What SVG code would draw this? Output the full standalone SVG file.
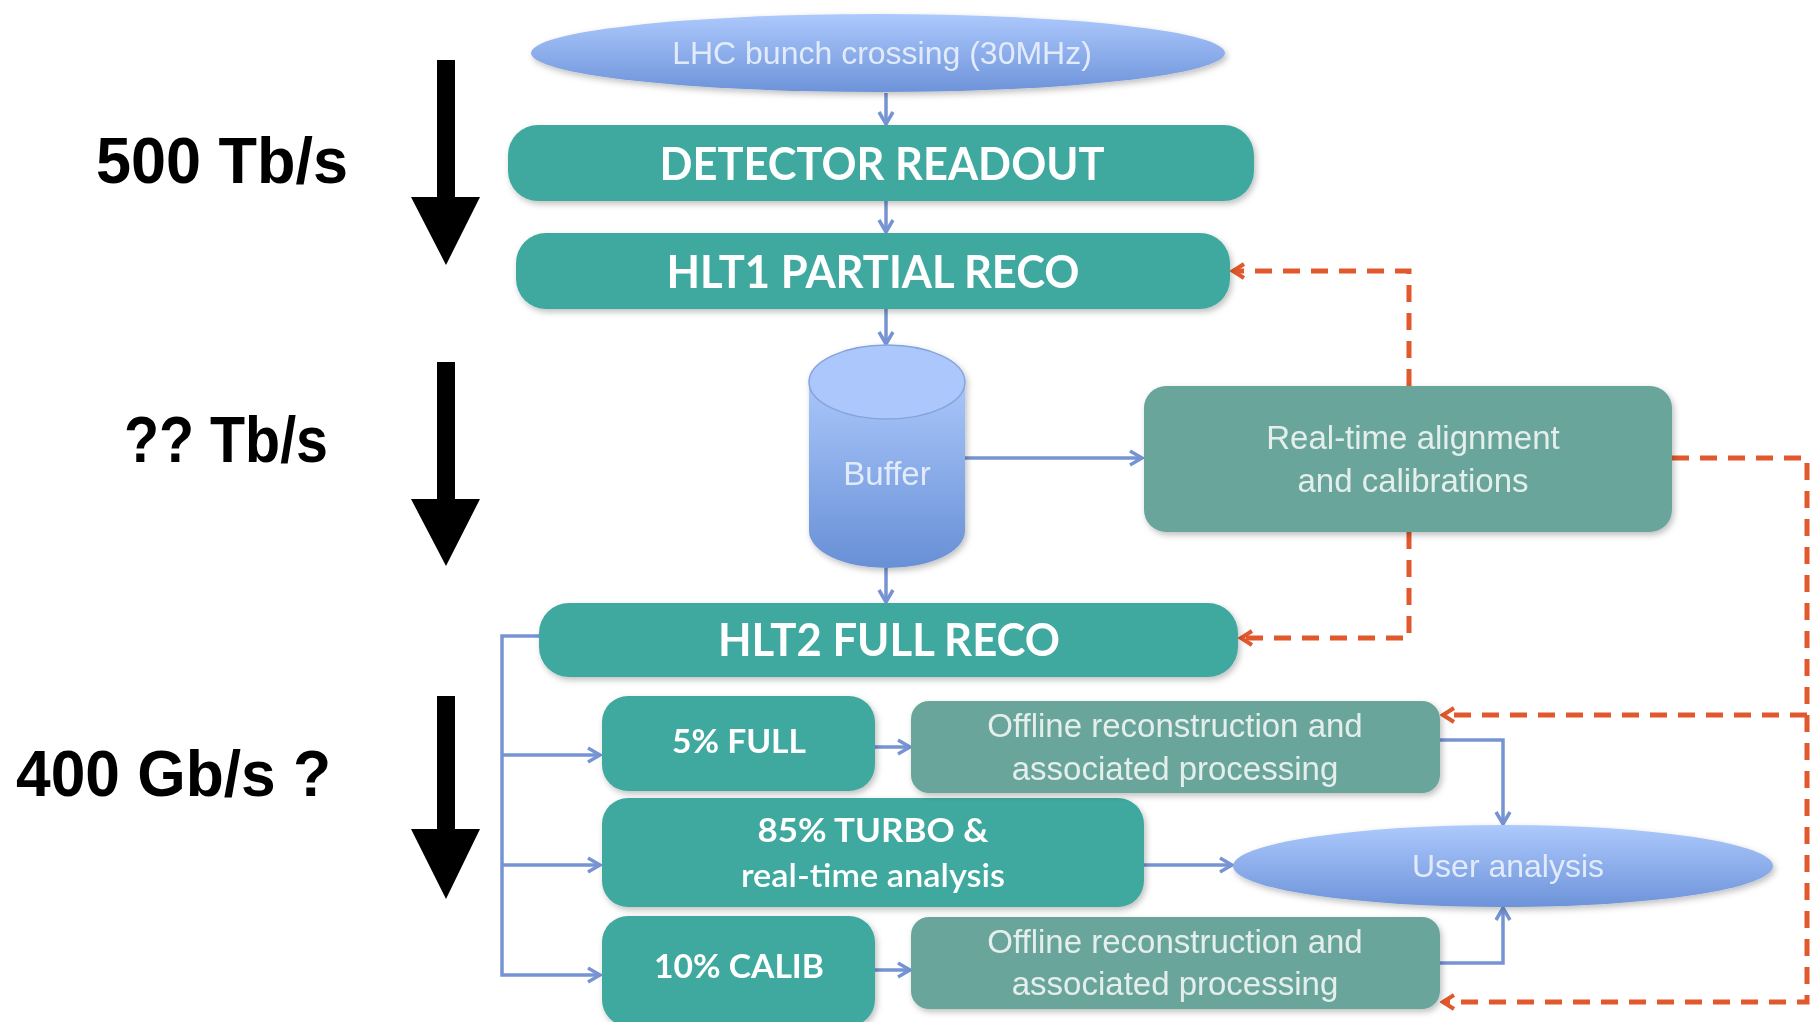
<svg xmlns="http://www.w3.org/2000/svg" width="1819" height="1022" viewBox="0 0 1819 1022">
<defs>
<style>
.rate{font-family:"Liberation Sans",Arial,sans-serif;font-weight:bold;font-size:64px;fill:#000}
.title{font-family:Lato,"Liberation Sans",sans-serif;font-weight:bold;font-size:46px;fill:#fff;text-anchor:middle}
.mid{font-family:Lato,"Liberation Sans",sans-serif;font-weight:bold;font-size:32px;fill:#fff;text-anchor:middle}
.small{font-family:"Liberation Sans",Arial,sans-serif;font-size:33px;fill:#e4efec;text-anchor:middle}
.blue{font-family:"Liberation Sans",Arial,sans-serif;font-size:32px;fill:#e2ebfb;text-anchor:middle}
.teal{fill:#41a99f}
.grey{fill:#6ba59c}
.bl{fill:none;stroke:#7694d3;stroke-width:3.5}
.rd{fill:none;stroke:#e0582c;stroke-width:5;stroke-dasharray:17 11}
</style>
<linearGradient id="gEll" x1="0" y1="0" x2="0" y2="1">
<stop offset="0" stop-color="#adc9fd"/>
<stop offset="1" stop-color="#6d93d9"/>
</linearGradient>
<linearGradient id="gCyl" x1="0" y1="0" x2="0" y2="1">
<stop offset="0" stop-color="#a9c6fa"/>
<stop offset="1" stop-color="#6890d6"/>
</linearGradient>
<filter id="sh" x="-10%" y="-20%" width="120%" height="150%">
<feDropShadow dx="2" dy="3" stdDeviation="3" flood-color="#000" flood-opacity="0.25"/>
</filter>
<marker id="ab" viewBox="0 0 18 18" refX="15" refY="9" markerWidth="18" markerHeight="18" markerUnits="userSpaceOnUse" orient="auto">
<path d="M3,2 L15,9 L3,16" fill="none" stroke="#7694d3" stroke-width="3.5"/>
</marker>
<marker id="ar" viewBox="0 0 18 18" refX="15" refY="9" markerWidth="18" markerHeight="18" markerUnits="userSpaceOnUse" orient="auto">
<path d="M4,2 L15,9 L4,16" fill="none" stroke="#e0582c" stroke-width="4"/>
</marker>
</defs>
<rect width="1819" height="1022" fill="#fff"/>

<g id="rates">
<g id="rate1">
<text class="rate" x="96" y="183" textLength="252" lengthAdjust="spacingAndGlyphs">500 Tb/s</text>
<path d="M437,60 H455 V197 H480 L446,265 L411,197 H437 Z" fill="#000"/>
</g>
<g id="rate2">
<text class="rate" x="124" y="462" textLength="204" lengthAdjust="spacingAndGlyphs">?? Tb/s</text>
<path d="M437,362 H455 V499 H480 L446,566 L411,499 H437 Z" fill="#000"/>
</g>
<g id="rate3">
<text class="rate" x="16" y="796" textLength="315" lengthAdjust="spacingAndGlyphs">400 Gb/s ?</text>
<path d="M437,696 H455 V829 H480 L446,899 L411,829 H437 Z" fill="#000"/>
</g>
</g>

<g id="connectors">
<path class="bl" d="M886,93 V124" marker-end="url(#ab)"/>
<path class="bl" d="M886,201 V232" marker-end="url(#ab)"/>
<path class="bl" d="M886,309 V344" marker-end="url(#ab)"/>
<path class="bl" d="M965,458 H1142" marker-end="url(#ab)"/>
<path class="bl" d="M886,568 V602" marker-end="url(#ab)"/>
<path class="bl" d="M539,636 H502 V975 H600" marker-end="url(#ab)"/>
<path class="bl" d="M502,755 H600" marker-end="url(#ab)"/>
<path class="bl" d="M502,865 H600" marker-end="url(#ab)"/>
<path class="bl" d="M875,747 H910" marker-end="url(#ab)"/>
<path class="bl" d="M875,970 H910" marker-end="url(#ab)"/>
<path class="bl" d="M1144,865 H1232" marker-end="url(#ab)"/>
<path class="bl" d="M1440,740 H1503 V824" marker-end="url(#ab)"/>
<path class="bl" d="M1440,963 H1503 V908" marker-end="url(#ab)"/>
<path class="rd" d="M1409,386 V271 H1233" marker-end="url(#ar)"/>
<path class="rd" d="M1409,532 V638 H1241" marker-end="url(#ar)"/>
<path class="rd" d="M1672,458 H1807 V1002 H1443" marker-end="url(#ar)"/>
<path class="rd" d="M1807,715 H1443" marker-end="url(#ar)"/>
</g>

<g id="lhc" filter="url(#sh)">
<ellipse cx="878" cy="53" rx="347" ry="39" fill="url(#gEll)"/>
<text class="blue" x="882" y="64">LHC bunch crossing (30MHz)</text>
</g>

<g id="detector" filter="url(#sh)">
<rect class="teal" x="508" y="125" width="746" height="76" rx="30"/>
<text class="title" x="882" y="180" textLength="445" lengthAdjust="spacingAndGlyphs">DETECTOR READOUT</text>
</g>

<g id="hlt1" filter="url(#sh)">
<rect class="teal" x="516" y="233" width="714" height="76" rx="30"/>
<text class="title" x="873" y="288" textLength="413" lengthAdjust="spacingAndGlyphs">HLT1 PARTIAL RECO</text>
</g>

<g id="buffer" filter="url(#sh)">
<path d="M809,382 V531 A78,37 0 0 0 965,531 V382 Z" fill="url(#gCyl)"/>
<ellipse cx="887" cy="382" rx="78" ry="37" fill="#abc7fb" stroke="#86a4dc" stroke-width="1.5"/>
<text class="blue" x="887" y="485" style="font-size:33px">Buffer</text>
</g>

<g id="realtime" filter="url(#sh)">
<rect class="grey" x="1144" y="386" width="528" height="146" rx="22"/>
<text class="small" x="1413" y="449">Real-time alignment</text>
<text class="small" x="1413" y="492">and calibrations</text>
</g>

<g id="hlt2" filter="url(#sh)">
<rect class="teal" x="539" y="603" width="699" height="74" rx="30"/>
<text class="title" x="889" y="656" textLength="342" lengthAdjust="spacingAndGlyphs">HLT2 FULL RECO</text>
</g>

<g id="full" filter="url(#sh)">
<rect class="teal" x="602" y="696" width="273" height="95" rx="26"/>
<text class="mid" x="739" y="753" textLength="134" lengthAdjust="spacingAndGlyphs">5% FULL</text>
</g>

<g id="turbo" filter="url(#sh)">
<rect class="teal" x="602" y="798" width="542" height="109" rx="26"/>
<text class="mid" x="873" y="842" textLength="231" lengthAdjust="spacingAndGlyphs">85% TURBO  &amp;</text>
<text class="mid" x="873" y="887" textLength="264" lengthAdjust="spacingAndGlyphs" style="font-weight:600">real-time analysis</text>
</g>

<g id="calib" filter="url(#sh)">
<rect class="teal" x="602" y="916" width="273" height="110" rx="26"/>
<text class="mid" x="739" y="978" textLength="170" lengthAdjust="spacingAndGlyphs">10% CALIB</text>
</g>

<g id="offline1" filter="url(#sh)">
<rect class="grey" x="911" y="701" width="529" height="92" rx="18"/>
<text class="small" x="1175" y="737">Offline reconstruction and</text>
<text class="small" x="1175" y="780">associated processing</text>
</g>

<g id="offline2" filter="url(#sh)">
<rect class="grey" x="911" y="917" width="529" height="92" rx="18"/>
<text class="small" x="1175" y="953">Offline reconstruction and</text>
<text class="small" x="1175" y="995">associated processing</text>
</g>

<g id="user" filter="url(#sh)">
<ellipse cx="1503" cy="866" rx="270" ry="41" fill="url(#gEll)"/>
<text class="blue" x="1508" y="877">User analysis</text>
</g>
</svg>
